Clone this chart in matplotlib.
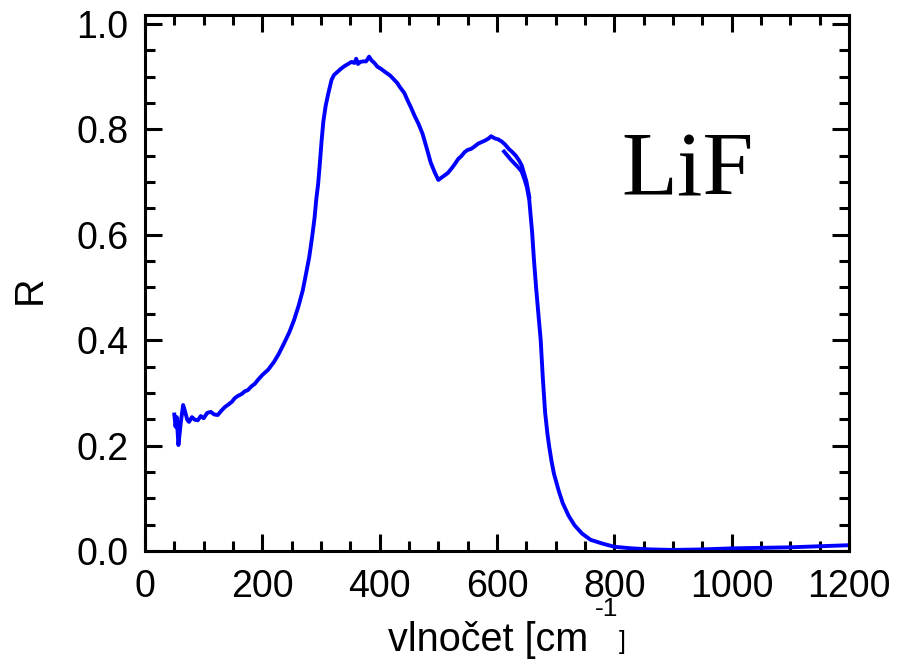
import matplotlib
matplotlib.use("Agg")
import matplotlib.pyplot as plt
from matplotlib.ticker import MultipleLocator

# Spectrum 1 (low-frequency measurement)
wn1 = [50, 52, 54, 57, 61, 65, 68, 72, 75, 80, 85, 90, 95, 100, 106, 112, 118, 124,
       130, 136, 141, 148, 153, 158, 165, 170, 175, 182, 187, 192, 200, 210, 220, 228,
       237, 246, 254, 262, 269, 275, 280, 285, 289, 292, 295, 298, 301, 304, 308, 312, 318,
       322, 328, 334, 340, 346, 352, 357, 360, 363, 367, 372, 377, 382, 386, 391, 396,
       402, 408, 413, 418, 424, 430, 434, 438, 442, 448, 454, 459, 466, 473, 480, 487,
       494, 500, 506, 511, 516, 522, 528, 534, 539, 545, 550, 556, 561, 568, 574, 580,
       586, 590, 596, 602, 608, 614, 620, 626, 632, 637, 642, 646, 650, 655]
R1 = [0.259, 0.236, 0.254, 0.201, 0.244, 0.277, 0.266, 0.249, 0.245, 0.254, 0.249, 0.248,
      0.256, 0.252, 0.262, 0.264, 0.259, 0.258, 0.266, 0.273, 0.277, 0.283, 0.290, 0.294,
      0.298, 0.303, 0.305, 0.313, 0.317, 0.324, 0.334, 0.344, 0.359, 0.374, 0.394, 0.415,
      0.438, 0.466, 0.495, 0.529, 0.558, 0.597, 0.632, 0.668, 0.695, 0.735, 0.778, 0.815,
      0.845, 0.866, 0.894, 0.903, 0.909, 0.915, 0.920, 0.924, 0.928, 0.926, 0.934, 0.924,
      0.928, 0.929, 0.929, 0.938, 0.931, 0.926, 0.919, 0.915, 0.910, 0.906, 0.902, 0.895,
      0.888, 0.881, 0.875, 0.869, 0.854, 0.840, 0.827, 0.811, 0.792, 0.765, 0.737, 0.718,
      0.704, 0.709, 0.713, 0.717, 0.725, 0.734, 0.744, 0.749, 0.757, 0.761, 0.763, 0.767,
      0.773, 0.776, 0.779, 0.783, 0.787, 0.783, 0.781, 0.777, 0.771, 0.763, 0.757, 0.750,
      0.742, 0.732, 0.717, 0.702, 0.672]

# Spectrum 2 (high-frequency measurement)
wn2 = [612, 618, 624, 630, 636, 642, 647, 651, 655, 660, 663, 667, 671, 674.5, 678, 682,
       686, 689, 693, 697, 705, 712, 722, 732, 745, 760, 780, 800, 830, 862, 900, 950,
       1000, 1050, 1100, 1150, 1200]
R2 = [0.758, 0.750, 0.742, 0.735, 0.728, 0.720, 0.705, 0.690, 0.666, 0.603, 0.552, 0.495,
      0.444, 0.400, 0.330, 0.263, 0.222, 0.198, 0.170, 0.147, 0.115, 0.091, 0.067, 0.049,
      0.033, 0.021, 0.014, 0.008, 0.005, 0.003, 0.002, 0.003, 0.005, 0.006, 0.007, 0.009,
      0.011]

xticks = [0, 200, 400, 600, 800, 1000, 1200]
yticks = [0.0, 0.2, 0.4, 0.6, 0.8, 1.0]

plt.rcParams['font.family'] = ['Liberation Sans', 'DejaVu Sans']

fig = plt.figure(figsize=(8.98, 6.64), dpi=100)
ax = fig.add_axes([145/898, 113/664, 704/898, 536/664])

ax.plot(wn1, R1, color='#0000ff', lw=2.8, solid_joinstyle='round')
ax.plot(wn2, R2, color='#0000ff', lw=2.8, solid_joinstyle='round')

ax.set_xlim(0, 1200)
ax.set_ylim(0, 1.017)
ax.set_xticks(xticks)
ax.set_xticklabels([str(t) for t in xticks])
ax.set_yticks(yticks)
ax.set_yticklabels([f"{t:.1f}" for t in yticks])
ax.xaxis.set_minor_locator(MultipleLocator(50))
ax.yaxis.set_minor_locator(MultipleLocator(0.05))

ax.tick_params(which='both', direction='in', top=True, right=True, width=2.2, colors='black')
ax.tick_params(which='major', length=12.5, labelsize=27)
ax.tick_params(axis='x', which='major', pad=13)
ax.tick_params(axis='y', which='major', pad=12)
ax.tick_params(which='minor', length=7)
for s in ax.spines.values():
    s.set_linewidth(2.2)

fig.text(30/898, 1 - 290/664, 'R', rotation=90, ha='center', va='center', fontsize=28.5)
fig.text(388/898, 1 - 651/664, 'vlnočet [cm', ha='left', va='baseline', fontsize=28.5)
fig.text(595/898, 1 - 616/664, '-1', ha='left', va='baseline', fontsize=19)
fig.text(619/898, 1 - 649/664, ']', ha='left', va='baseline', fontsize=18)

fig.text(621/898, 1 - 195/664, 'LiF', ha='left', va='baseline', fontsize=66,
         family=['Liberation Serif', 'DejaVu Serif'])

fig.savefig('out.png', dpi=100)
